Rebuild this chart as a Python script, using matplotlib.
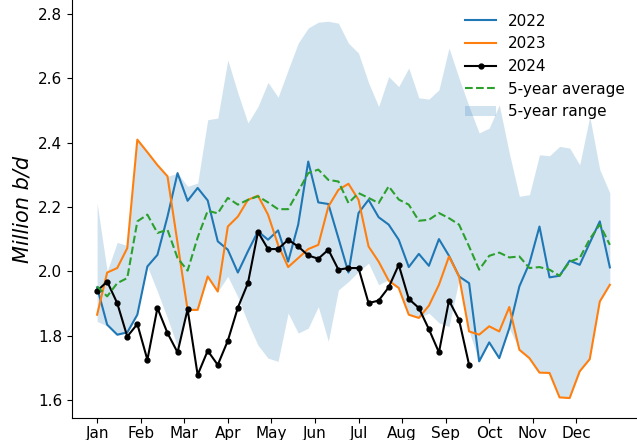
import numpy as np
import matplotlib
matplotlib.use('Agg')
import matplotlib.pyplot as plt

# weekly values, million b/d
y2022 = [1.95, 1.834, 1.803, 1.81, 1.865, 2.015, 2.051, 2.17, 2.305, 2.219,
         2.259, 2.22, 2.093, 2.067, 1.996, 2.062, 2.124, 2.098, 2.127, 2.03,
         2.145, 2.341, 2.214, 2.209, 2.103, 1.996, 2.181, 2.222, 2.168, 2.145,
         2.098, 2.013, 2.054, 2.017, 2.1, 2.048, 1.984, 1.963, 1.72, 1.779,
         1.73, 1.823, 1.953, 2.025, 2.139, 1.981, 1.986, 2.033, 2.02, 2.088,
         2.155, 2.012]
y2023 = [1.865, 1.996, 2.01, 2.072, 2.409, 2.37, 2.33, 2.295, 2.088, 1.88,
         1.88, 1.984, 1.937, 2.139, 2.17, 2.222, 2.235, 2.176, 2.082, 2.013,
         2.041, 2.069, 2.082, 2.201, 2.253, 2.272, 2.222, 2.077, 2.03, 1.971,
         1.948, 1.865, 1.855, 1.893, 1.958, 2.046, 1.984, 1.813, 1.803, 1.829,
         1.813, 1.889, 1.756, 1.73, 1.685, 1.684, 1.608, 1.606, 1.689, 1.727,
         1.906, 1.958]
y2024 = [1.939, 1.968, 1.901, 1.797, 1.836, 1.725, 1.886, 1.808, 1.748, 1.882,
         1.678, 1.753, 1.709, 1.784, 1.887, 1.963, 2.122, 2.069, 2.069, 2.098,
         2.077, 2.049, 2.039, 2.067, 2.005, 2.01, 2.01, 1.901, 1.909, 1.95,
         2.02, 1.914, 1.886, 1.82, 1.748, 1.909, 1.849, 1.709]
avg5 = [1.953, 1.922, 1.963, 1.979, 2.155, 2.176, 2.119, 2.129, 2.041, 2.002,
        2.105, 2.188, 2.18, 2.228, 2.207, 2.222, 2.233, 2.214, 2.193, 2.193,
        2.248, 2.305, 2.316, 2.284, 2.279, 2.212, 2.243, 2.228, 2.212, 2.264,
        2.223, 2.207, 2.157, 2.16, 2.181, 2.165, 2.145, 2.077, 2.005, 2.048,
        2.058, 2.043, 2.046, 2.01, 2.013, 2.005, 1.986, 2.03, 2.041, 2.1,
        2.145, 2.082]
range_hi = [2.212, 2.0, 2.09, 2.08, 2.409, 2.37, 2.33, 2.295, 2.305, 2.264,
            2.274, 2.471, 2.476, 2.657, 2.554, 2.461, 2.512, 2.587, 2.541, 2.626,
            2.709, 2.756, 2.774, 2.777, 2.771, 2.709, 2.678, 2.586, 2.512, 2.605,
            2.574, 2.632, 2.539, 2.535, 2.564, 2.694, 2.6, 2.512, 2.43, 2.445,
            2.517, 2.367, 2.233, 2.238, 2.362, 2.359, 2.388, 2.383, 2.331, 2.481,
            2.316, 2.243]
range_lo = [1.844, 1.83, 1.8, 1.81, 1.865, 2.015, 1.937, 1.854, 1.766, 1.88,
            1.88, 1.98, 1.937, 1.984, 1.92, 1.84, 1.77, 1.73, 1.72, 1.87,
            1.808, 1.823, 1.89, 1.782, 1.942, 1.968, 1.999, 2.025, 1.958, 1.974,
            1.948, 1.865, 1.855, 1.87, 1.84, 1.828, 1.974, 1.813, 1.72, 1.779,
            1.73, 1.823, 1.756, 1.73, 1.685, 1.684, 1.608, 1.606, 1.689, 1.727,
            1.906, 1.958]
months = ['Jan', 'Feb', 'Mar', 'Apr', 'May', 'Jun',
          'Jul', 'Aug', 'Sep', 'Oct', 'Nov', 'Dec']

weeks = np.arange(len(y2022))

fig = plt.figure(figsize=(6.37, 4.4), dpi=100)
ax = fig.add_axes([0.113, 0.05, 0.887, 0.95])

ax.fill_between(weeks, range_lo, range_hi, color='tab:blue', alpha=0.2,
                linewidth=0, label='5-year range')
ax.plot(weeks, y2022, color='tab:blue', lw=1.5, label='2022')
ax.plot(weeks, y2023, color='tab:orange', lw=1.5, label='2023')
ax.plot(np.arange(len(y2024)), y2024, color='black', lw=1.5, marker='o',
        markersize=3.5, label='2024')
ax.plot(weeks, avg5, color='tab:green', lw=1.5, ls='--', label='5-year average')

ax.set_xticks(np.arange(12) * 52 / 12)
ax.set_xticklabels(months, fontsize=11)
ax.tick_params(axis='x', pad=2)
ax.tick_params(axis='y', labelsize=11)
ax.set_yticks([1.6, 1.8, 2.0, 2.2, 2.4, 2.6, 2.8])
ax.set_xlim(-2.5, 53.7)
ax.set_ylim(1.544, 2.843)
ax.set_ylabel('Million b/d', fontsize=15, style='italic')
ax.spines['top'].set_visible(False)
ax.spines['right'].set_visible(False)

h, l = ax.get_legend_handles_labels()
order = [1, 2, 3, 4, 0]
ax.legend([h[i] for i in order], [l[i] for i in order], loc='upper right',
          frameon=False, fontsize=11, bbox_to_anchor=(1.003, 1.0))

fig.savefig('out.png', dpi=100)
